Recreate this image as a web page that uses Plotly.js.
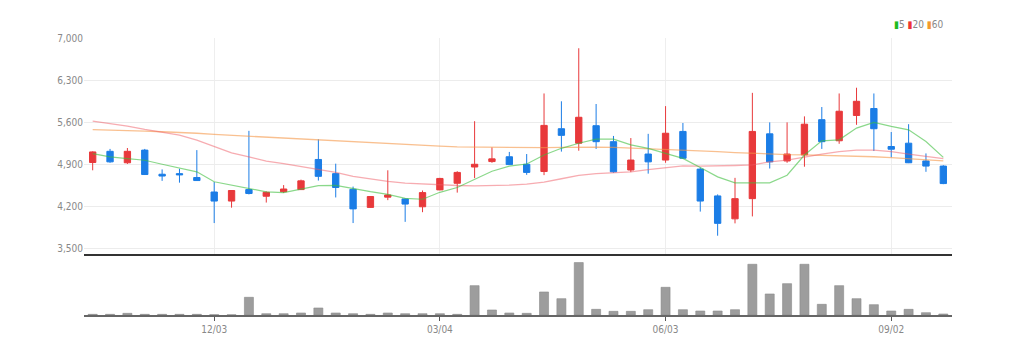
<!DOCTYPE html>
<html>
<head>
<meta charset="utf-8">
<script src="https://cdn.plot.ly/plotly-3.0.1.min.js"></script>
<style>
html,body{margin:0;padding:0;background:#fff;}
#chart{width:1014px;height:354px;}
</style>
</head>
<body>
<div id="chart"></div>
<script>
var dates = ['2023-10-16','2023-10-23','2023-10-30','2023-11-06','2023-11-13','2023-11-20','2023-11-27','2023-12-04','2023-12-11','2023-12-18',
 '2023-12-25','2024-01-01','2024-01-08','2024-01-15','2024-01-22','2024-01-29','2024-02-05','2024-02-12','2024-02-19','2024-02-26',
 '2024-03-04','2024-03-11','2024-03-18','2024-03-25','2024-04-01','2024-04-08','2024-04-15','2024-04-22','2024-04-29','2024-05-06',
 '2024-05-13','2024-05-20','2024-05-27','2024-06-03','2024-06-10','2024-06-17','2024-06-24','2024-07-01','2024-07-08','2024-07-15',
 '2024-07-22','2024-07-29','2024-08-05','2024-08-12','2024-08-19','2024-08-26','2024-09-02','2024-09-09','2024-09-16','2024-09-23'];

var openP  = [4935,5120,4930,5140,4740,4750,4685,4445,4295,4485, 4375,4450,4485,4985,4750,4490,4190,4360,4330,4200,
              4480,4590,4860,4950,5030,4905,4785,5495,5255,5545, 5280,4810,5075,4975,5450,4825,4380,4000,4335,5410,
              4960,5060,5645,5295,5715,5830,5200,5255,4960,4875];
var highP  = [5120,5160,5175,5160,4820,4830,5140,4610,4475,5460, 4455,4560,4650,5320,4915,4535,4375,4805,4335,4470,
              4680,4790,5620,5185,5110,5075,6080,5950,6830,5905, 5375,5340,5410,5870,5590,4850,4405,4680,6090,5600,
              5600,5700,5855,6080,6175,6080,5440,5570,5085,4890];
var lowP   = [4805,4930,4910,4730,4630,4600,4630,3930,4185,4405, 4270,4430,4480,4635,4355,3930,4185,4310,3950,4110,
              4475,4435,4675,4930,4895,4730,4725,5115,5130,5160, 4765,4775,4750,4930,4995,4120,3720,3925,4040,4835,
              4930,4865,5160,5245,5560,5125,5020,4925,4780,4575];
var closeP = [5110,4945,5120,4735,4710,4730,4635,4295,4470,4420, 4440,4495,4630,4705,4520,4165,4370,4395,4245,4435,
              4670,4770,4905,4995,4900,4770,5550,5385,5685,5280, 4780,4975,4945,5420,5005,4295,3925,4335,5450,4945,
              5075,5570,5280,5785,5950,5495,5155,4930,4875,4585];

var ma5  = [5083,5028,5000,4972,4905,4840,4780,4615,4560,4495, 4448,4435,4495,4550,4555,4500,4450,4405,4340,4325,
            4440,4520,4655,4790,4875,4910,5059,5170,5254,5321, 5321,5226,5170,5087,5003,4852,4696,4596,4596,4596,
            4724,5059,5293,5310,5505,5600,5533,5477,5282,5020];
var ma20 = [5622,5583,5539,5483,5439,5389,5306,5194,5094,5028, 4956,4917,4870,4820,4770,4705,4660,4620,4592,4575,
            4564,4553,4547,4550,4560,4575,4610,4665,4720,4750, 4765,4780,4815,4850,4878,4875,4875,4885,4895,4945,
            4975,5030,5075,5115,5140,5140,5115,5075,5040,5000];
var ma60 = [5480,5475,5468,5455,5445,5435,5420,5400,5385,5365, 5350,5335,5320,5305,5290,5270,5255,5240,5225,5210,
            5205,5195,5190,5185,5182,5180,5180,5185,5190,5190, 5185,5175,5165,5155,5145,5130,5115,5100,5085,5070,
            5065,5060,5055,5045,5040,5030,5015,5000,4985,4960];

var volume = [2,2,5,2,2,2,2,1,0.5,53, 4,4,6,21,6,4,2,6,4,4,
              4,2,88,15,6,5,69,49,157,17, 11,11,16,83,16,12,12,16,152,63,
              94,152,32,88,49,31,12,17,7,3];

var tickDates  = ['2023-12-04','2024-03-04','2024-06-03','2024-09-02'];
var tickLabels = ['12/03','03/04','06/03','09/02'];
var priceTicks = [3500,4200,4900,5600,6300,7000];
var maNames = ['5','20','60'];

var RED = '#e8393b', BLUE = '#1b7de6';
var FONT = 'Liberation Sans Narrow, DejaVu Sans Condensed, Roboto, sans-serif';

var traces = [
  {type:'candlestick', x:dates, open:openP, high:highP, low:lowP, close:closeP,
   xaxis:'x', yaxis:'y', showlegend:false, whiskerwidth:0,
   increasing:{line:{color:RED,width:1}, fillcolor:RED},
   decreasing:{line:{color:BLUE,width:1}, fillcolor:BLUE}},
  {type:'scatter', mode:'lines', x:dates, y:ma60, xaxis:'x', yaxis:'y', showlegend:false,
   line:{color:'rgba(245,150,70,0.6)', width:1.3}},
  {type:'scatter', mode:'lines', x:dates, y:ma20, xaxis:'x', yaxis:'y', showlegend:false,
   line:{color:'rgba(240,90,100,0.5)', width:1.3}},
  {type:'scatter', mode:'lines', x:dates, y:ma5, xaxis:'x', yaxis:'y', showlegend:false,
   line:{color:'rgba(60,190,60,0.6)', width:1.2}},
  {type:'bar', x:dates, y:volume, xaxis:'x2', yaxis:'y2', showlegend:false,
   marker:{color:'#9d9d9d', line:{color:'#8a8a8a', width:0.6}}}
];

var layout = {
  width:1014, height:354,
  margin:{l:84, r:62, t:38, b:39},
  paper_bgcolor:'#fff', plot_bgcolor:'#fff',
  font:{family:FONT, size:10, color:'#888'},
  showlegend:false,
  boxgap:0.48,
  bargap:0.48,
  xaxis:{type:'category', anchor:'y', range:[-0.5,49.5], showticklabels:false,
         tickvals:tickDates, showgrid:true, gridcolor:'#eeeeee', gridwidth:1,
         zeroline:false, showline:false, ticks:'', rangeslider:{visible:false}, fixedrange:true},
  yaxis:{domain:[0.2166,1], range:[3400,7000], tickvals:priceTicks, tickformat:',d',
         showgrid:true, gridcolor:'#ececec', gridwidth:1, zeroline:false, showline:false,
         ticks:'', tickfont:{family:FONT, size:10, color:'#888'}, fixedrange:true},
  xaxis2:{type:'category', anchor:'y2', matches:'x', range:[-0.5,49.5],
          tickvals:tickDates, ticktext:tickLabels, showgrid:false, zeroline:false,
          showline:true, linecolor:'#666', linewidth:1.5,
          ticks:'outside', ticklen:4, tickcolor:'#555', tickwidth:1,
          tickfont:{family:FONT, size:10, color:'#888'}},
  yaxis2:{domain:[0,0.2], range:[0,166], showticklabels:false, showgrid:false,
          zeroline:false, showline:false, ticks:''},
  shapes:[
    {type:'line', xref:'paper', yref:'y domain', x0:0, x1:1, y0:0, y1:0,
     line:{color:'#333', width:2.2}}
  ],
  annotations:[
    {xref:'paper', yref:'paper', x:0.992, y:1.047, xanchor:'right', yanchor:'middle', showarrow:false,
     font:{family:FONT, size:10, color:'#888'},
     text:'<span style="color:#1fbb1f">▮</span>'+maNames[0]+' <span style="color:#ee3535">▮</span>'+maNames[1]+' <span style="color:#f39a2e">▮</span>'+maNames[2]}
  ]
};

Plotly.newPlot('chart', traces, layout, {displayModeBar:false, staticPlot:true});
</script>
</body>
</html>
